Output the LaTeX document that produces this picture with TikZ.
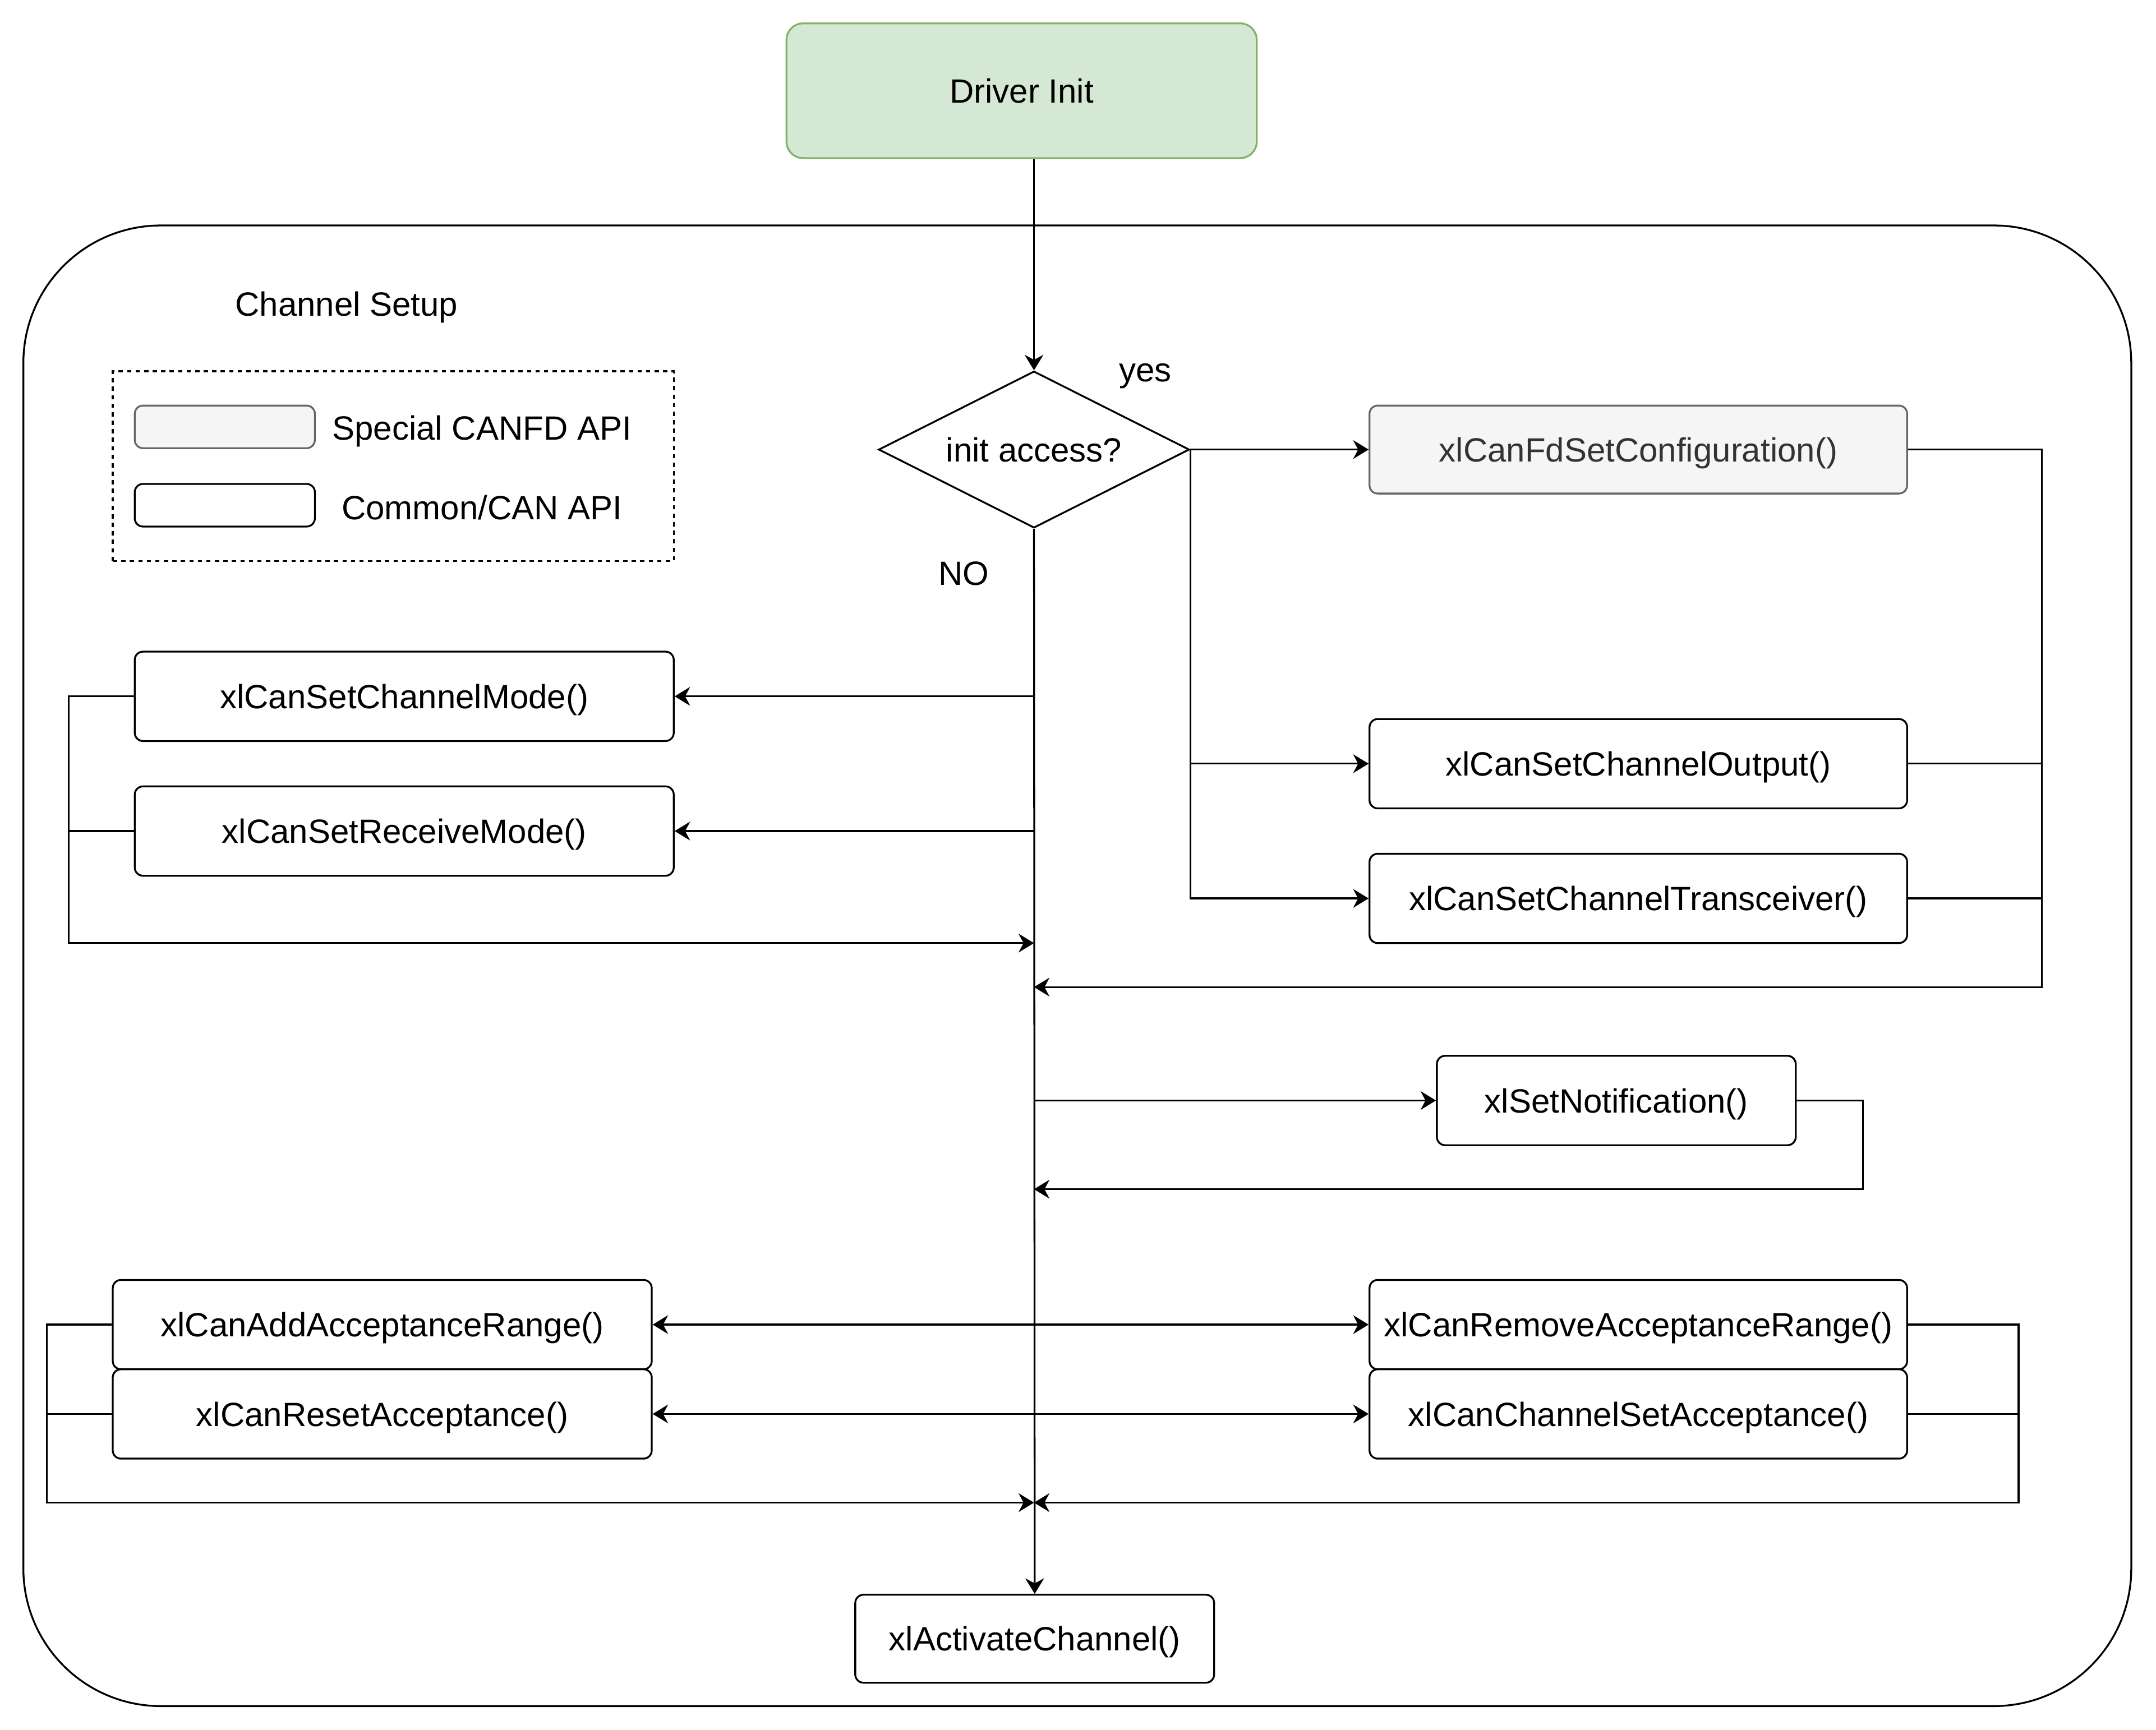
\documentclass[tikz,border=0pt]{standalone}
\usepackage{fontspec}
\setmainfont{Liberation Sans}
\usetikzlibrary{shapes.geometric,arrows.meta,calc}
\newlength\ux
\setlength\ux{0.025cm}
\definecolor{grnfill}{HTML}{D5E8D4}
\definecolor{grnline}{HTML}{82B366}
\definecolor{gryfill}{HTML}{F5F5F5}
\definecolor{gryline}{HTML}{666666}
\definecolor{grytext}{HTML}{333333}
\tikzset{
  every node/.style={font=\fontsize{17.4}{21}\selectfont, inner sep=0pt, text depth=0pt},
  fnbox/.style={draw, line width=0.95pt, rounded corners=6\ux, minimum width=392\ux, minimum height=65\ux, fill=white},
  cfdbox/.style={fnbox, draw=gryline, fill=gryfill, text=grytext},
  conn/.style={line width=0.95pt},
  arr/.style={conn, -{Stealth[length=0.28cm, width=0.34cm, inset=0.09cm]}},
}
\begin{document}
\begin{tikzpicture}[x=0.025cm, y=-0.025cm]
\useasboundingbox (0,0) rectangle (1568,1258);
% container
\node[draw, line width=0.95pt, rounded corners=100\ux, minimum width=1533\ux, minimum height=1077\ux] (cont) at (783.5,702.5) {};
\node (ctitle) at (252,221) {Channel Setup};
% legend
\node[draw, line width=0.95pt, dash pattern=on 2.2pt off 2.2pt, minimum width=408\ux, minimum height=138\ux] (legend) at (286,339) {};
\node[cfdbox, minimum width=131\ux, minimum height=31\ux] (lg1) at (163.5,310.5) {};
\node[fnbox, minimum width=131\ux, minimum height=31\ux] (lg2) at (163.5,367.5) {};
\node (lt1) at (350.5,311) {Special CANFD API};
\node (lt2) at (350.5,369) {Common/CAN API};
% top
\node[draw=grnline, fill=grnfill, line width=0.95pt, rounded corners=12\ux, minimum width=342\ux, minimum height=98\ux] (init) at (743,66) {Driver Init};
\node[diamond, draw, line width=0.95pt, aspect=2, minimum width=226\ux, minimum height=114\ux] (dia) at (752,327) {init access?};
\node (yes) at (833,271) {yes};
\node (no) at (701,417) {NO};
% boxes
\node[cfdbox, minimum width=391\ux, minimum height=64\ux] (fdcfg) at (1191.5,327) {xlCanFdSetConfiguration()};
\node[fnbox, minimum width=391\ux] (cout) at (1191.5,555.5) {xlCanSetChannelOutput()};
\node[fnbox, minimum width=391\ux] (ctrx) at (1191.5,653.5) {xlCanSetChannelTransceiver()};
\node[fnbox] (cmode) at (294,506.5) {xlCanSetChannelMode()};
\node[fnbox] (rmode) at (294,604.5) {xlCanSetReceiveMode()};
\node[fnbox, minimum width=261\ux] (notif) at (1175.5,800.5) {xlSetNotification()};
\node[fnbox] (addr) at (278,963.5) {xlCanAddAcceptanceRange()};
\node[fnbox] (resa) at (278,1028.5) {xlCanResetAcceptance()};
\node[fnbox, minimum width=391\ux] (remr) at (1191.5,963.5) {xlCanRemoveAcceptanceRange()};
\node[fnbox, minimum width=391\ux] (csa) at (1191.5,1028.5) {xlCanChannelSetAcceptance()};
\node[fnbox, minimum width=261\ux, minimum height=64\ux] (act) at (752.5,1192) {xlActivateChannel()};
% coordinates
\coordinate (L1) at (50,686);
\coordinate (m1) at (752,686);
\coordinate (R1) at (1485,718);
\coordinate (m2) at (752,718);
\coordinate (R2) at (1355,865);
\coordinate (m3) at (752,865);
\coordinate (L2) at (34,1093);
\coordinate (m4) at (752,1093);
\coordinate (R3) at (1468,1093);
% connectors
\draw[arr] (init.south -| dia.north) -- (dia.north);
\draw[arr] (dia.south) -- (act.north);
\draw[arr] (dia.east) -- (fdcfg.west);
\draw[arr] (dia.east) |- (cout.west);
\draw[arr] (dia.east) |- (ctrx.west);
\draw[arr] (fdcfg.east) -| (R1) -- (m2);
\draw[conn] (cout.east) -- (cout.east -| R1);
\draw[conn] (ctrx.east) -- (ctrx.east -| R1);
\draw[arr] (dia.south |- cmode.east) -- (cmode.east);
\draw[arr] (dia.south |- rmode.east) -- (rmode.east);
\draw[arr] (cmode.west) -| (L1) -- (m1);
\draw[conn] (rmode.west) -- (rmode.west -| L1);
\draw[arr] (dia.south |- notif.west) -- (notif.west);
\draw[arr] (notif.east) -| (R2) -- (m3);
\draw[arr] (dia.south |- addr.east) -- (addr.east);
\draw[arr] (dia.south |- resa.east) -- (resa.east);
\draw[arr] (dia.south |- remr.west) -- (remr.west);
\draw[arr] (dia.south |- csa.west) -- (csa.west);
\draw[arr] (addr.west) -| (L2) -- (m4);
\draw[conn] (resa.west) -- (resa.west -| L2);
\draw[arr] (remr.east) -| (R3) -- (m4);
\draw[conn] (csa.east) -- (csa.east -| R3);
\end{tikzpicture}
\end{document}
